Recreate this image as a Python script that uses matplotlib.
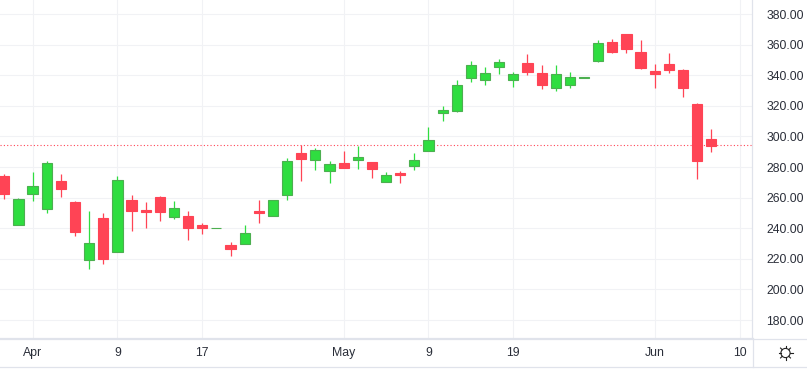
import numpy as np
import matplotlib
matplotlib.use("Agg")
import matplotlib.pyplot as plt

plt.rcParams["font.family"] = ["Liberation Sans", "DejaVu Sans"]

# --- datos (velas diarias) ---
open_ = [274.2, 242.2, 262.6, 252.7, 270.9, 257.1, 219.3, 246.6, 224.5, 258.4,
         251.9, 260.4, 247.3, 247.9, 242.0, 240.0, 228.9, 229.8, 251.2, 247.9,
         261.7, 289.3, 284.7, 277.5, 282.7, 284.7, 283.4, 270.2, 276.1, 280.7,
         290.6, 315.5, 316.8, 338.4, 337.1, 345.6, 337.1, 348.1, 341.6, 331.8,
         333.8, 338.5, 349.5, 361.9, 367.1, 355.3, 342.9, 347.5, 343.6, 321.4,
         298.5]
close = [262.4, 258.9, 267.6, 282.7, 265.6, 237.4, 230.6, 219.7, 271.6, 251.2,
         250.5, 250.5, 253.2, 240.0, 240.0, 240.5, 226.3, 237.2, 249.9, 258.4,
         284.0, 285.3, 291.2, 282.0, 279.4, 286.7, 278.8, 274.8, 274.8, 284.7,
         297.8, 317.5, 333.7, 346.5, 341.5, 348.7, 340.8, 342.3, 333.8, 341.0,
         339.0, 338.8, 361.2, 355.3, 357.3, 344.9, 341.0, 343.6, 331.8, 284.1,
         293.9]
high = [275.5, 259.7, 276.8, 284.0, 275.5, 257.8, 251.2, 249.9, 274.2, 261.7,
        257.1, 261.0, 257.8, 251.2, 243.3, 240.5, 230.9, 242.0, 258.4, 258.4,
        286.0, 294.3, 292.6, 284.0, 290.6, 293.9, 283.4, 276.8, 277.5, 289.3,
        306.3, 320.1, 336.9, 349.3, 345.4, 350.7, 342.2, 354.0, 346.8, 346.8,
        342.3, 338.8, 363.2, 363.8, 367.1, 363.2, 347.5, 354.7, 344.2, 322.0,
        305.0]
low = [259.1, 242.2, 257.8, 249.9, 260.4, 234.8, 213.1, 216.4, 224.5, 238.1,
       240.0, 244.6, 246.0, 232.2, 236.1, 240.0, 221.7, 229.8, 243.3, 247.9,
       258.4, 270.9, 278.0, 269.6, 279.4, 278.8, 272.9, 270.2, 269.6, 278.1,
       290.6, 310.3, 316.2, 335.8, 333.7, 340.8, 332.4, 340.3, 331.2, 329.8,
       331.8, 338.5, 348.8, 354.7, 354.7, 344.2, 331.8, 341.6, 325.9, 272.3,
       290.0]
ultimo = 294.2

fecha_pos = [2, 8, 14, 24, 30, 36, 46, 52]
fecha_lab = ["Apr", "9", "17", "May", "9", "19", "Jun", "10"]
precios = [180, 200, 220, 240, 260, 280, 300, 320, 340, 360, 380]

ROJO = "#FF4455"
VERDE = "#2FDD40"
BORDE_VERDE = "#4CAF50"
GRID = "#F1F2F5"
LINEA = "#E0E3EB"
TEXTO = "#2A2E39"

W, H = 807, 370
fig = plt.figure(figsize=(W / 100, H / 100), dpi=100, facecolor="white")
ax = fig.add_axes([0, 1 - 338 / H, 752 / W, 338 / H])

op, cl, hi, lo = map(np.array, (open_, close, high, low))
x = np.arange(len(op))
sube = cl >= op
colores = np.where(sube, VERDE, ROJO)
bordes = np.where(sube, BORDE_VERDE, ROJO)

ax.axhline(ultimo, color=ROJO, lw=0.8, linestyle=(0, (1, 2)), zorder=1)
ax.vlines(x, lo, hi, colors=colores, lw=0.9, zorder=2)
ax.bar(x, np.abs(cl - op), bottom=np.minimum(op, cl), width=0.72,
       color=colores, edgecolor=bordes, linewidth=0.8, zorder=3)

ax.set_xlim(-0.304, 52.88)
ax.set_ylim(168.3, 389.2)
ax.set_xticks(fecha_pos)
ax.set_xticklabels(fecha_lab, fontsize=8.8, color=TEXTO)
ax.set_yticks(precios)
ax.set_yticklabels([f"{p:.2f}" for p in precios], fontsize=8.7, color=TEXTO)
ax.yaxis.tick_right()
ax.tick_params(axis="x", length=0, pad=6.5)
ax.tick_params(axis="y", length=0, pad=10.5)
ax.grid(True, color=GRID, lw=0.8, zorder=0)
ax.set_axisbelow(True)
for s in ("top", "left"):
    ax.spines[s].set_visible(False)
ax.spines["right"].set_color(LINEA)
ax.spines["bottom"].set_color(LINEA)
ax.spines["right"].set_linewidth(0.9)
ax.spines["bottom"].set_linewidth(0.9)

# --- marco inferior e icono de ajustes (en pixeles) ---
marco = fig.add_axes([0, 0, 1, 1], facecolor="none")
marco.set_xlim(0, W)
marco.set_ylim(H, 0)
marco.axis("off")
marco.plot([0, W], [338.5, 338.5], color=LINEA, lw=0.9)
marco.plot([0, W], [366.5, 366.5], color=LINEA, lw=0.9)
marco.plot([752.5, 752.5], [338, 366.5], color=LINEA, lw=0.9)

cx, cy = 785.5, 353
marco.add_patch(plt.Circle((cx, cy), 4.6, fill=False, ec="#222222", lw=0.8))
for ang in np.arange(0, 360, 45):
    c, s = np.cos(np.radians(ang)), np.sin(np.radians(ang))
    marco.plot([cx + 4.6 * c, cx + 7 * c], [cy + 4.6 * s, cy + 7 * s],
               color="#222222", lw=0.8)

fig.savefig("out.png", dpi=100, facecolor="white")
